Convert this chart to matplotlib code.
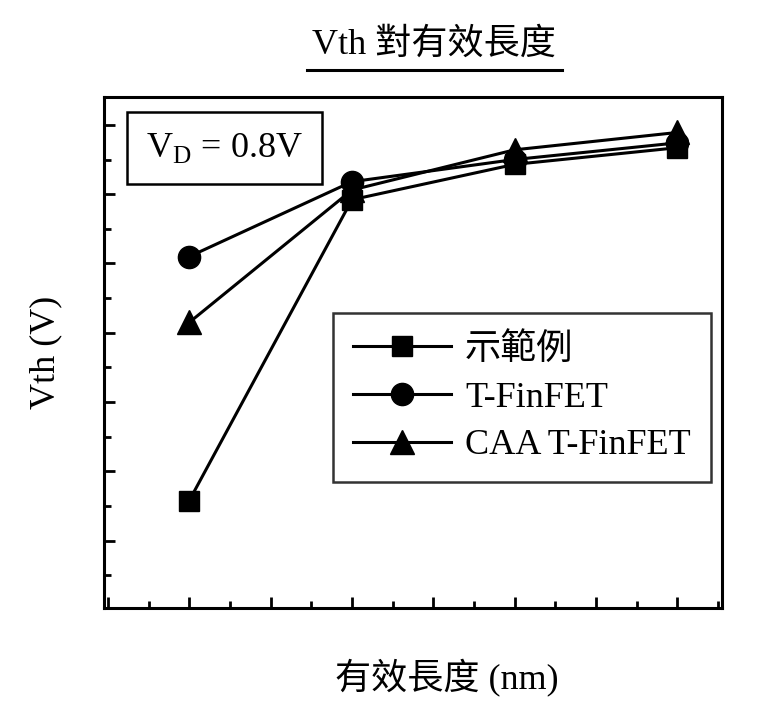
import numpy as np
import matplotlib
matplotlib.use("Agg")
import matplotlib.pyplot as plt
from matplotlib.ticker import MultipleLocator, NullFormatter
from matplotlib.lines import Line2D

plt.rcParams['font.family'] = ['Liberation Serif', 'Noto Sans CJK TC']
plt.rcParams['mathtext.fontset'] = 'custom'
plt.rcParams['mathtext.rm'] = 'Liberation Serif'

# data (arbitrary units; the chart has no tick labels)
lengths = [10, 20, 30, 40]
vth_example = [0.158, 0.592, 0.643, 0.667]
vth_tfinfet = [0.510, 0.618, 0.650, 0.674]
vth_caa = [0.415, 0.606, 0.664, 0.689]
series_names = ["示範例", "T-FinFET", "CAA T-FinFET"]

fig = plt.figure(figsize=(7.64, 7.09), dpi=100)
ax = fig.add_axes([0.136, 0.1425, 0.809, 0.7205])

ax.plot(lengths, vth_example, color='black', lw=2.2, marker='s', ms=14, zorder=3)
ax.plot(lengths, vth_tfinfet, color='black', lw=2.2, marker='o', ms=16, zorder=3)
ax.plot(lengths, vth_caa, color='black', lw=2.2, marker='^', ms=17, zorder=3)

ax.set_xlim(4.75, 42.75)
ax.set_ylim(0.003, 0.74)
ax.xaxis.set_major_locator(MultipleLocator(5))
ax.xaxis.set_minor_locator(MultipleLocator(2.5))
ax.yaxis.set_major_locator(MultipleLocator(0.1))
ax.yaxis.set_minor_locator(MultipleLocator(0.05))
ax.xaxis.set_major_formatter(NullFormatter())
ax.yaxis.set_major_formatter(NullFormatter())
ax.tick_params(which='major', direction='in', length=8, width=2)
ax.tick_params(which='minor', direction='in', length=5, width=2)
ax.tick_params(top=False, right=False)
for s in ax.spines.values():
    s.set_linewidth(2.2)

ax.set_xlabel("有效長度 (nm)", fontsize=26)
ax.xaxis.set_label_coords(0.555, -0.1)
ax.set_ylabel("Vth (V)", fontsize=26)
ax.yaxis.set_label_coords(-0.068, 0.5)

ax.text(0.068, 0.9, r"V$_{\mathrm{D}}$ = 0.8V", transform=ax.transAxes,
        fontsize=26, va='center', ha='left',
        bbox=dict(boxstyle='square,pad=0.52', fc='white', ec='black', lw=1.8))

handles = [
    Line2D([], [], color='black', lw=2.2, marker='s', ms=14),
    Line2D([], [], color='black', lw=2.2, marker='o', ms=16),
    Line2D([], [], color='black', lw=2.2, marker='^', ms=17),
]
leg = ax.legend(handles, series_names, loc='upper left',
                bbox_to_anchor=(0.371, 0.577), fontsize=26, frameon=True,
                fancybox=False, edgecolor='black', handlelength=2.7,
                handletextpad=0.4, labelspacing=0.4, borderpad=0.55,
                borderaxespad=0)
leg.get_frame().set_linewidth(1.8)

fig.text(0.568, 0.937, "Vth 對有效長度", fontsize=26, ha='center', va='center')
fig.add_artist(Line2D([0.402, 0.735], [0.901, 0.901], color='black', lw=2.2,
                      transform=fig.transFigure))

fig.savefig("out.png", dpi=100)
